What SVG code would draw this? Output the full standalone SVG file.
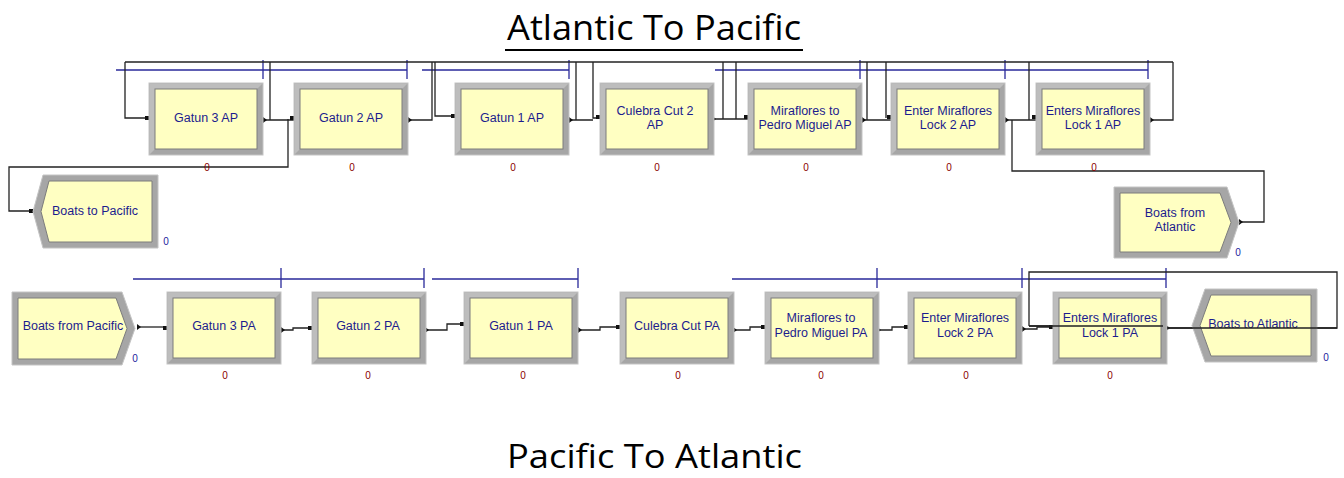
<svg xmlns="http://www.w3.org/2000/svg" xmlns:xlink="http://www.w3.org/1999/xlink" width="1344" height="478" viewBox="0 0 1344 478">
<style>
.lbl{font-family:"Liberation Sans",Arial,sans-serif;font-size:12.5px;fill:#1c1c8e;text-anchor:middle}
.cnt{font-family:"Liberation Sans",Arial,sans-serif;font-size:10px;fill:#8b0000;text-anchor:middle}
.cntb{font-family:"Liberation Sans",Arial,sans-serif;font-size:10px;fill:#1c1c9e;text-anchor:middle}
.title{font-family:"Open Sans","DejaVu Sans",sans-serif;font-size:35px;fill:#000}
.con{fill:none;stroke:#222;stroke-width:1.3}
.q{fill:none;stroke:#2a2a9a;stroke-width:1.3}
.outer{fill:#a6a6a6;stroke:#c4c4c4;stroke-width:1}
.hl{fill:#bdbdbd}
.inner{fill:#ffffc2;stroke:#7c7c7c;stroke-width:1}
.pt{fill:#111}
</style>
<defs>
<g id="proc">
<rect class="outer" x="0" y="0" width="114" height="72"/>
<polygon class="hl" points="0.5,0.5 113.5,0.5 108,6 6,6 6,66 0.5,71.5"/>
<rect class="inner" x="6" y="6" width="102" height="60"/>
</g>
</defs>

<!-- titles -->
<text class="title" x="507" y="40" textLength="294" lengthAdjust="spacingAndGlyphs">Atlantic To Pacific</text>
<line x1="505" y1="50" x2="803" y2="50" stroke="#000" stroke-width="2"/>
<text class="title" x="507" y="468" font-size="33" style="font-size:33px" textLength="295" lengthAdjust="spacingAndGlyphs">Pacific To Atlantic</text>

<!-- queue lines -->
<g id="queues">
<path class="q" d="M116,70 H263 M263,60 V79 M263,70 H407 M407,60 V79 M422,70 H569 M569,60 V79 M715,70 H1148 M860,60 V79 M1005,60 V79 M1148,60 V79"/>
<path class="q" d="M133,279 H424 M281,268 V288 M424,268 V288 M432,279 H578 M578,268 V288 M732,279 H1166 M877,268 V288 M1022,268 V288 M1166,268 V288"/>
</g>

<!-- connectors -->
<g id="connectors">
<path class="con" d="M125,62 H1173"/>
<path class="con" d="M125,62 V118 H149"/>
<path class="con" d="M263,120 H294 M270,62 V120"/>
<path class="con" d="M288,119 V167 H9 V211 H33"/>
<path class="con" d="M408,120 H432 V62 M435,62 V116 H455"/>
<path class="con" d="M569,120 H593 M576,62 V120 M593,62 V118 H600"/>
<path class="con" d="M712,119 H748 M723,62 V119 M736,62 V119"/>
<path class="con" d="M862,120 H891 M867,62 V120 M886,62 V118"/>
<path class="con" d="M1005,120 H1036 M1029,62 V120"/>
<path class="con" d="M1012,120 V171 H1264 V222 H1239"/>
<path class="con" d="M1150,120 H1173 V62"/>

<path class="con" d="M137,327 H167"/>
<path class="con" d="M282,330 H293 V328 H312"/>
<path class="con" d="M426,330 H447 V324 H464"/>
<path class="con" d="M578,330 H600 V327 H620"/>
<path class="con" d="M733,330 H750 V327 H765"/>
<path class="con" d="M877,330 H892 V327 H908"/>
<path class="con" d="M1022,329 H1037 V327 H1053"/>
<path class="con" d="M1029,326 V272 H1337 V328 H1167 M1029,326 H1163"/>

<!-- entry/exit points -->
<rect class="pt" x="145" y="116" width="4" height="4"/>
<rect class="pt" x="290" y="116" width="4" height="4"/>
<rect class="pt" x="451" y="114" width="4" height="4"/>
<rect class="pt" x="596" y="115" width="4" height="4"/>
<rect class="pt" x="744" y="115" width="4" height="4"/>
<rect class="pt" x="887" y="115" width="4" height="4"/>
<rect class="pt" x="1032" y="115" width="4" height="4"/>
<rect class="pt" x="29" y="209" width="4" height="4"/>
<polygon class="pt" points="263,117 267,120 263,123"/>
<polygon class="pt" points="408,117 412,120 408,123"/>
<polygon class="pt" points="569,117 573,120 569,123"/>
<polygon class="pt" points="712,116 716,119 712,122"/>
<polygon class="pt" points="862,117 866,120 862,123"/>
<polygon class="pt" points="1005,117 1009,120 1005,123"/>
<polygon class="pt" points="1150,117 1154,120 1150,123"/>
<polygon class="pt" points="1239,219 1243,222 1239,225"/>

<rect class="pt" x="163" y="326" width="4" height="4"/>
<rect class="pt" x="308" y="326" width="4" height="4"/>
<rect class="pt" x="460" y="322" width="4" height="4"/>
<rect class="pt" x="616" y="325" width="4" height="4"/>
<rect class="pt" x="761" y="325" width="4" height="4"/>
<rect class="pt" x="904" y="325" width="4" height="4"/>
<rect class="pt" x="1049" y="325" width="4" height="4"/>
<rect class="pt" x="1161" y="322" width="4" height="4"/>
<polygon class="pt" points="137,324 141,327 137,330"/>
<polygon class="pt" points="281,327 285,330 281,333"/>
<polygon class="pt" points="425,327 429,330 425,333"/>
<polygon class="pt" points="578,327 582,330 578,333"/>
<polygon class="pt" points="733,327 737,330 733,333"/>
<polygon class="pt" points="877,327 881,330 877,333"/>
<polygon class="pt" points="1022,326 1026,329 1022,332"/>
<polygon class="pt" points="1166,325 1170,328 1166,331"/>
</g>

<!-- top row nodes -->
<g id="gatun3ap"><use xlink:href="#proc" x="149" y="83"/><text class="lbl" x="206" y="122">Gatun 3 AP</text><text class="cnt" x="207" y="171">0</text></g>
<g id="gatun2ap"><use xlink:href="#proc" x="294" y="83"/><text class="lbl" x="351" y="122">Gatun 2 AP</text><text class="cnt" x="352" y="171">0</text></g>
<g id="gatun1ap"><use xlink:href="#proc" x="455" y="83"/><text class="lbl" x="512" y="122">Gatun 1 AP</text><text class="cnt" x="513" y="171">0</text></g>
<g id="culebra2ap"><use xlink:href="#proc" x="600" y="83"/><text class="lbl" x="655" y="115">Culebra Cut 2</text><text class="lbl" x="655" y="129">AP</text><text class="cnt" x="657" y="171">0</text></g>
<g id="mirapmap"><use xlink:href="#proc" x="748" y="83"/><text class="lbl" x="805" y="115">Miraflores to</text><text class="lbl" x="805" y="129">Pedro Miguel AP</text><text class="cnt" x="806" y="171">0</text></g>
<g id="ml2ap"><use xlink:href="#proc" x="891" y="83"/><text class="lbl" x="948" y="115">Enter Miraflores</text><text class="lbl" x="948" y="129">Lock 2 AP</text><text class="cnt" x="949" y="171">0</text></g>
<g id="ml1ap"><use xlink:href="#proc" x="1036" y="83"/><text class="lbl" x="1093" y="115">Enters Miraflores</text><text class="lbl" x="1093" y="129">Lock 1 AP</text><text class="cnt" x="1094" y="171">0</text></g>

<g id="boatstopacific">
<polygon class="outer" points="43,175 158,175 158,248 43,248 33,211.5"/>
<polygon class="inner" points="49,181 152,181 152,242 49,242 41,211.5"/>
<text class="lbl" x="95" y="215">Boats to Pacific</text>
<text class="cntb" x="166" y="245">0</text>
</g>
<g id="boatsfromatlantic">
<polygon class="outer" points="1114,187 1227,187 1239,222.5 1227,258 1114,258"/>
<polygon class="inner" points="1120,193 1220,193 1231,222.5 1220,252 1120,252"/>
<text class="lbl" x="1175" y="217">Boats from</text>
<text class="lbl" x="1175" y="231">Atlantic</text>
<text class="cntb" x="1238" y="256">0</text>
</g>

<!-- bottom row nodes -->
<g id="boatsfrompacific">
<polygon class="outer" points="12,292 122,292 135,328.5 122,365 12,365"/>
<polygon class="inner" points="18,298 116,298 127,328.5 116,359 18,359"/>
<text class="lbl" x="73" y="330">Boats from Pacific</text>
<text class="cntb" x="135" y="362">0</text>
</g>
<g id="gatun3pa"><use xlink:href="#proc" x="167" y="292"/><text class="lbl" x="224" y="330">Gatun 3 PA</text><text class="cnt" x="225" y="379">0</text></g>
<g id="gatun2pa"><use xlink:href="#proc" x="312" y="292"/><text class="lbl" x="368" y="330">Gatun 2 PA</text><text class="cnt" x="368" y="379">0</text></g>
<g id="gatun1pa"><use xlink:href="#proc" x="464" y="292"/><text class="lbl" x="521" y="330">Gatun 1 PA</text><text class="cnt" x="523" y="379">0</text></g>
<g id="culebrapa"><use xlink:href="#proc" x="620" y="292"/><text class="lbl" x="677" y="330">Culebra Cut PA</text><text class="cnt" x="678" y="379">0</text></g>
<g id="mirapmpa"><use xlink:href="#proc" x="765" y="292"/><text class="lbl" x="821" y="322">Miraflores to</text><text class="lbl" x="821" y="337">Pedro Miguel PA</text><text class="cnt" x="821" y="379">0</text></g>
<g id="ml2pa"><use xlink:href="#proc" x="908" y="292"/><text class="lbl" x="965" y="322">Enter Miraflores</text><text class="lbl" x="965" y="337">Lock 2 PA</text><text class="cnt" x="966" y="379">0</text></g>
<g id="ml1pa"><use xlink:href="#proc" x="1053" y="292"/><text class="lbl" x="1110" y="322">Enters Miraflores</text><text class="lbl" x="1110" y="337">Lock 1 PA</text><text class="cnt" x="1110" y="379">0</text></g>
<g id="boatstoatlantic">
<polygon class="outer" points="1205,289 1317,289 1317,362 1205,362 1192,325.5"/>
<polygon class="inner" points="1211,295 1311,295 1311,356 1211,356 1200,325.5"/>
<text class="lbl" x="1253" y="328">Boats to Atlantic</text>
<text class="cntb" x="1326" y="361">0</text>
</g>

<!-- loop line over Boats to Atlantic / Lock 1 PA -->
<path class="con" d="M1167,328 H1337 M1029,326 H1163"/>
</svg>
